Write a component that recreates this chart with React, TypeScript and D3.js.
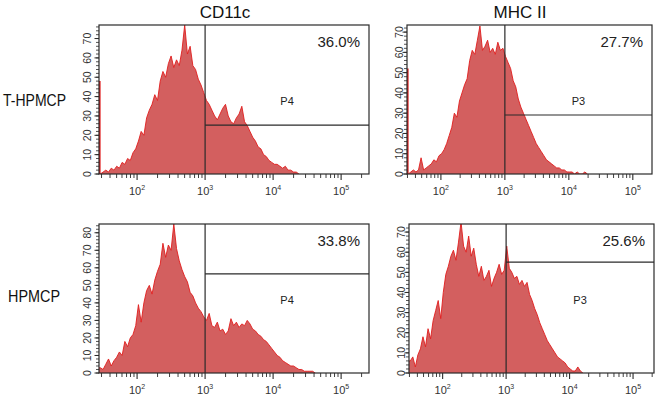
import React from "react";
import * as d3 from "d3";

// column and row titles
const markers = ["CD11c", "MHC II"];
const samples = ["T-HPMCP", "HPMCP"];

// per panel: top-left, top-right, bottom-left, bottom-right
const percents = ["36.0%", "27.7%", "33.8%", "25.6%"];
const gateNames = ["P4", "P3", "P4", "P3"];
const gateLevels = [25.3, 29.1, 56.5, 55.1];
const edgeCounts = [48, 52, 0, 0];
const decadeExponents = [2, 3, 4, 5];
const gateStart = 1000;
const binWidth = 0.04; // in decades

// histogram counts, one bin per 0.04 decade from the left edge of each panel
const cd11cTHpmcp = [
  0, 1, 2, 1, 3, 2, 4, 3, 6, 5, 8, 7, 11, 13, 17, 22, 20, 29, 33, 36,
  41, 38, 48, 53, 50, 57, 61, 55, 59, 56, 64, 77, 62, 66, 56, 54, 49, 46, 42, 38,
  36, 33, 30, 28, 31, 34, 36, 30, 27, 26, 29, 31, 35, 27, 25, 22, 19, 17, 14, 13,
  10, 9, 7, 6, 5, 5, 4, 3, 4, 2, 2, 1, 1, 0,
];
const mhcTHpmcp = [
  0, 1, 2, 1, 2, 8, 2, 3, 4, 5, 7, 6, 9, 10, 12, 15, 19, 23, 30, 28,
  36, 40, 44, 47, 56, 61, 59, 66, 73, 61, 63, 66, 60, 62, 59, 65, 61, 62, 58, 55,
  52, 46, 43, 37, 33, 30, 27, 24, 21, 18, 15, 13, 11, 9, 7, 6, 5, 4, 3, 3,
  2, 2, 1, 1, 1, 0, 1, 0, 0, 1, 0,
];
const cd11cHpmcp = [
  3, 2, 5, 8, 4, 7, 9, 12, 10, 18, 15, 20, 22, 27, 39, 29, 40, 47, 50, 45,
  53, 58, 62, 74, 66, 73, 70, 85, 71, 64, 59, 55, 52, 46, 44, 40, 37, 35, 32, 30,
  34, 27, 26, 29, 24, 25, 22, 24, 31, 27, 29, 26, 28, 27, 30, 28, 25, 24, 22, 21,
  19, 18, 16, 14, 12, 10, 9, 7, 6, 5, 4, 4, 3, 2, 2, 1, 1, 1, 1, 0,
];
const mhcHpmcp = [
  6, 8, 3, 9, 12, 18, 13, 22, 17, 26, 31, 36, 27, 40, 49, 53, 58, 61, 56, 65,
  75, 63, 60, 68, 58, 62, 54, 48, 53, 46, 48, 51, 43, 47, 50, 54, 49, 51, 63, 52,
  50, 47, 48, 44, 46, 43, 45, 39, 36, 32, 29, 25, 22, 19, 16, 14, 12, 10, 8, 7,
  6, 5, 3, 2, 1, 1, 3, 1, 0,
];
const series = [cd11cTHpmcp, mhcTHpmcp, cd11cHpmcp, mhcHpmcp];

const panels = [
  { left: 99, top: 25, width: 270, height: 149, lo: 1.44, hi: 5.41, yMax: 77 },
  { left: 407, top: 25, width: 245, height: 149, lo: 1.47, hi: 5.3, yMax: 73.5 },
  { left: 99, top: 224, width: 270, height: 149, lo: 1.44, hi: 5.41, yMax: 85 },
  { left: 409, top: 224, width: 245, height: 149, lo: 1.47, hi: 5.33, yMax: 74 },
];

const font = "'Liberation Sans', Arial, sans-serif";
const fillColor = "#d35f5f";
const lineColor = "#e11d1d";
const frameColor = "#2a2a2a";

function Panel({ idx }: { idx: number }) {
  const p = panels[idx];
  const counts = series[idx];
  const x = d3.scaleLog().domain([10 ** p.lo, 10 ** p.hi]).range([p.left, p.left + p.width]);
  const y = d3.scaleLinear().domain([0, p.yMax]).range([p.top + p.height, p.top]);
  const bottom = p.top + p.height;
  const right = p.left + p.width;

  // bin centres, joined point to point like the cytometer's trace
  const pts: [number, number][] = counts.map((c, i) => [10 ** (p.lo + (i + 0.5) * binWidth), c]);
  pts.unshift([10 ** p.lo, counts[0]]);

  const area = d3
    .area<[number, number]>()
    .x((d) => x(d[0]))
    .y0(y(0))
    .y1((d) => y(d[1]));
  const line = d3
    .line<[number, number]>()
    .x((d) => x(d[0]))
    .y((d) => y(d[1]));

  const majorY = y.ticks(8);
  const minorY = d3.range(0, p.yMax, 2);
  const minorX: number[] = [];
  for (let e = 1; e <= 5; e++) {
    for (let k = 2; k <= 9; k++) {
      const v = k * 10 ** e;
      if (v > 10 ** p.lo && v < 10 ** p.hi) minorX.push(v);
    }
  }
  const clipId = `clip-${idx}`;
  const yLabelX = idx % 2 === 0 ? p.left - 12 : p.left - 8.5;
  const gx = x(gateStart);

  return (
    <g>
      <clipPath id={clipId}>
        <rect x={p.left} y={p.top} width={p.width} height={p.height} />
      </clipPath>
      <g clipPath={`url(#${clipId})`}>
        <path d={area(pts) || ""} fill={fillColor} />
        <path d={line(pts) || ""} fill="none" stroke={lineColor} strokeWidth={0.9} />
        {edgeCounts[idx] > 0 && (
          <line
            x1={p.left + 0.8}
            x2={p.left + 0.8}
            y1={y(0)}
            y2={y(edgeCounts[idx])}
            stroke={lineColor}
            strokeWidth={1.6}
          />
        )}
      </g>
      {/* gate */}
      <line x1={gx} x2={gx} y1={p.top} y2={bottom} stroke={frameColor} strokeWidth={1.2} />
      <line
        x1={gx}
        x2={right}
        y1={y(gateLevels[idx])}
        y2={y(gateLevels[idx])}
        stroke={frameColor}
        strokeWidth={1.2}
      />
      <text
        x={(gx + right) / 2}
        y={p.top + 76}
        fontSize={11}
        fontFamily={font}
        textAnchor="middle"
        dominantBaseline="central"
        fill="#222"
      >
        {gateNames[idx]}
      </text>
      <text x={right - 9} y={p.top + 22} fontSize={15} fontFamily={font} textAnchor="end" fill="#222">
        {percents[idx]}
      </text>
      <rect
        x={p.left}
        y={p.top}
        width={p.width}
        height={p.height}
        fill="none"
        stroke={frameColor}
        strokeWidth={1.2}
      />
      {/* y axis */}
      {minorY.map((v) => (
        <line key={`my${v}`} x1={p.left - 3} x2={p.left} y1={y(v)} y2={y(v)} stroke={frameColor} strokeWidth={0.8} />
      ))}
      {majorY.map((v) => (
        <g key={`y${v}`}>
          <line x1={p.left - 4.5} x2={p.left} y1={y(v)} y2={y(v)} stroke={frameColor} strokeWidth={1} />
          <text
            transform={`translate(${yLabelX},${y(v)}) rotate(-90)`}
            fontSize={10.5}
            fontFamily={font}
            textAnchor="middle"
            dominantBaseline="central"
            fill="#333"
          >
            {v}
          </text>
        </g>
      ))}
      {/* x axis */}
      {minorX.map((v) => (
        <line key={`mx${v}`} x1={x(v)} x2={x(v)} y1={bottom} y2={bottom + 4} stroke={frameColor} strokeWidth={0.9} />
      ))}
      {decadeExponents.map((e) => (
        <g key={`x${e}`}>
          <line x1={x(10 ** e)} x2={x(10 ** e)} y1={bottom} y2={bottom + 6} stroke={frameColor} strokeWidth={1.1} />
          <text x={x(10 ** e)} y={bottom + 21} fontSize={11} fontFamily={font} textAnchor="middle" fill="#333">
            10
            <tspan dy={-5} fontSize={7}>
              {e}
            </tspan>
          </text>
        </g>
      ))}
    </g>
  );
}

export default function App() {
  return (
    <svg
      width={660}
      height={402}
      style={{ position: "absolute", left: 0, top: 0, background: "#fff" }}
    >
      {markers.map((m, i) => (
        <text
          key={m}
          x={i === 0 ? 225 : 520}
          y={18}
          fontSize={17}
          fontFamily={font}
          textAnchor="middle"
          fill="#111"
        >
          {m}
        </text>
      ))}
      {samples.map((s, i) => (
        <text
          key={s}
          x={i === 0 ? 3 : 8}
          y={i === 0 ? 106 : 302}
          fontSize={16}
          textLength={i === 0 ? 63 : 52}
          lengthAdjust="spacingAndGlyphs"
          fontFamily={font}
          fill="#111"
        >
          {s}
        </text>
      ))}
      {panels.map((_, i) => (
        <Panel key={i} idx={i} />
      ))}
    </svg>
  );
}
